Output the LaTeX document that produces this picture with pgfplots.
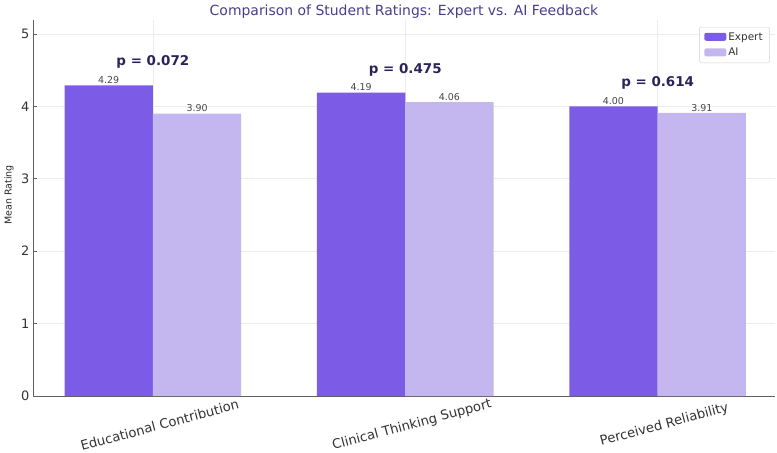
\documentclass[border=0pt]{standalone}
\usepackage{pgfplots}
\pgfplotsset{compat=1.18}
\usepackage{fontspec}
\setmainfont{DejaVu Sans}
\definecolor{expert}{RGB}{124,92,230}
\definecolor{ai}{RGB}{196,183,240}
\definecolor{titlec}{RGB}{72,61,139}
\definecolor{pcol}{RGB}{40,36,90}
\definecolor{valc}{RGB}{70,70,70}
\definecolor{gridc}{RGB}{236,236,236}
\definecolor{spine}{RGB}{95,95,95}
\newcommand{\fs}[1]{\fontsize{#1}{#1}\selectfont}
\begin{document}
\begin{tikzpicture}
\begin{axis}[
  at={(0,0)}, anchor=south west,
  scale only axis,
  width=742bp, height=376.5bp,
  xmin=-0.475, xmax=2.465,
  ymin=0, ymax=5.2,
  axis x line*=bottom, axis y line*=left,
  axis line style={-, spine, line width=0.9bp},
  xtick={0,1,2},
  xticklabels={Educational Contribution, Clinical Thinking Support, Perceived Reliability},
  xticklabel style={rotate=15, anchor=center, yshift=-26bp, font=\fs{13.2}, text=black!80},
  ytick={0,1,2,3,4,5},
  yticklabel style={font=\fs{13}, text=black!80},
  /pgf/number format/assume math mode=true,
  major tick length=4bp,
  tick style={spine, line width=0.8bp},
  xtick style={draw=none},
  grid=major,
  major grid style={gridc, line width=0.6bp},
  ylabel={Mean Rating},
  ylabel style={font=\fs{9.5}, text=black!85, at={(axis description cs:-0.0323,0.534)}, anchor=center},
  title={Comparison of Student Ratings: Expert vs. AI Feedback},
  title style={font=\fs{14}, text=titlec, at={(axis description cs:0.5,1)}, anchor=base, yshift=-2bp, inner sep=0pt},
  ybar,
  bar width=0.35,
  nodes near coords,
  nodes near coords style={/pgf/number format/.cd, fixed, fixed zerofill, precision=2, /tikz/.cd},
  every node near coord/.append style={font=\fs{9.5}, text=valc, anchor=south, inner sep=1.5bp},
  legend style={at={(rel axis cs:0.993,0.98)}, anchor=north east, draw=black!18, rounded corners=2pt, fill=white, font=\fs{10.5}, text=black!80, inner xsep=5bp, inner ysep=3.5bp, row sep=2.5bp},
  legend cell align=left,
  legend image code/.code={\fill[#1] (0bp,-3.5bp) rectangle (22bp,4.5bp);},
]
\addplot[fill=expert, draw=none, bar shift=-0.175] coordinates {(0,4.29) (1,4.19) (2,4.00)};
\addplot[fill=ai, draw=none, bar shift=0.175] coordinates {(0,3.90) (1,4.06) (2,3.91)};
\legend{Expert, AI}
\node[font=\bfseries\fs{13.5}, text=pcol, anchor=center] at (axis cs:0,4.61) {p = 0.072};
\node[font=\bfseries\fs{13.5}, text=pcol, anchor=center] at (axis cs:1,4.50) {p = 0.475};
\node[font=\bfseries\fs{13.5}, text=pcol, anchor=center] at (axis cs:2,4.32) {p = 0.614};
\end{axis}
\pgfresetboundingbox
\path[use as bounding box] (-33bp,-57bp) rectangle (744bp,396bp);
\end{tikzpicture}
\end{document}
